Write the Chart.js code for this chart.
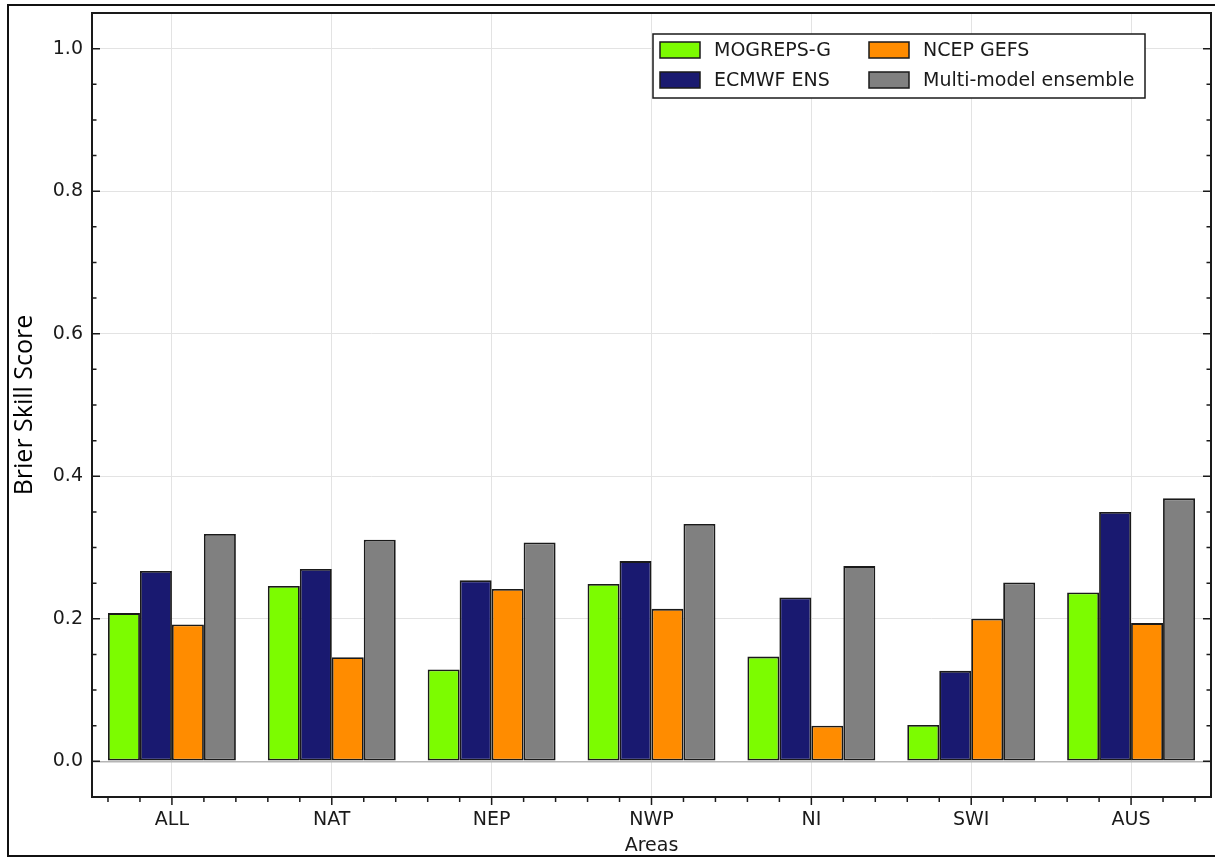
<!DOCTYPE html>
<html>
<head>
<meta charset="utf-8">
<script src="https://cdn.jsdelivr.net/npm/chart.js@4.4.1/dist/chart.umd.min.js"></script>
<style>
  html, body { margin: 0; padding: 0; background: #fff; }
  #wrap { position: relative; width: 1215px; height: 857px; }
</style>
</head>
<body>
<div id="wrap"><canvas id="graph"></canvas></div>
<script>
// values
const areas = ["ALL", "NAT", "NEP", "NWP", "NI", "SWI", "AUS"];
const mogrepsG = [0.208, 0.246, 0.129, 0.249, 0.147, 0.051, 0.237];
const ecmwfEns = [0.267, 0.270, 0.254, 0.281, 0.230, 0.127, 0.350];
const ncepGefs = [0.192, 0.146, 0.242, 0.214, 0.050, 0.200, 0.194];
const multiModel = [0.319, 0.311, 0.307, 0.333, 0.274, 0.251, 0.369];
const yTicks = [0.0, 0.2, 0.4, 0.6, 0.8, 1.0];

const FONT = "'DejaVu Sans', sans-serif";
const INK = "#1a1a1a";

// matplotlib-ish inward/outward ticks, axes box, legend and page frame
const decorations = {
  id: "decorations",
  afterDraw(chart) {
    const { ctx, chartArea: { left, right, top, bottom }, scales: { x, y } } = chart;
    ctx.save();
    ctx.strokeStyle = INK;
    ctx.lineWidth = 1.5;
    ctx.beginPath();
    for (let k = -1; k <= 21; k++) {
      const v = k * 0.05;
      const py = y.getPixelForValue(v);
      if (py < top || py > bottom) continue;
      const len = k % 4 === 0 ? 8 : 4.5;
      ctx.moveTo(left, py); ctx.lineTo(left + len, py);
      ctx.moveTo(right, py); ctx.lineTo(right - len, py);
    }
    const w = (right - left) / areas.length;
    areas.forEach((a, i) => {
      const cx = x.getPixelForValue(i);
      [-0.4, -0.2, 0, 0.2, 0.4].forEach(f => {
        const px = cx + f * w;
        ctx.moveTo(px, bottom); ctx.lineTo(px, bottom + (f === 0 ? 8 : 5));
      });
    });
    ctx.stroke();

    ctx.lineWidth = 2;
    ctx.strokeRect(left, top, right - left, bottom - top);

    // legend, two columns filled top to bottom
    const lx = right - 558, ly = top + 21, lw = 492, lh = 64;
    ctx.fillStyle = "#fff";
    ctx.fillRect(lx, ly, lw, lh);
    ctx.lineWidth = 1.5;
    ctx.strokeRect(lx, ly, lw, lh);
    ctx.font = "19px " + FONT;
    ctx.textBaseline = "middle";
    chart.data.datasets.forEach((ds, i) => {
      const col = Math.floor(i / 2), row = i % 2;
      const sx = lx + 7 + col * 209;
      const sy = ly + 16 + row * 30;
      ctx.fillStyle = ds.backgroundColor;
      ctx.fillRect(sx, sy - 8, 40, 16);
      ctx.strokeStyle = INK;
      ctx.lineWidth = 1.5;
      ctx.strokeRect(sx, sy - 8, 40, 16);
      ctx.fillStyle = INK;
      ctx.fillText(ds.label, sx + 54, sy + 1);
    });

    // outer frame of the figure
    ctx.strokeStyle = "#111";
    ctx.lineWidth = 2;
    ctx.beginPath();
    ctx.moveTo(1216, 5); ctx.lineTo(8, 5); ctx.lineTo(8, 856); ctx.lineTo(1216, 856);
    ctx.stroke();
    ctx.restore();
  }
};

const barStyle = { borderColor: INK, borderWidth: 1.8, borderSkipped: false };

new Chart(document.getElementById("graph"), {
  type: "bar",
  data: {
    labels: areas,
    datasets: [
      { label: "MOGREPS-G", data: mogrepsG, backgroundColor: "#7cfc00", ...barStyle },
      { label: "ECMWF ENS", data: ecmwfEns, backgroundColor: "#191970", ...barStyle },
      { label: "NCEP GEFS", data: ncepGefs, backgroundColor: "#ff8c00", ...barStyle },
      { label: "Multi-model ensemble", data: multiModel, backgroundColor: "#808080", ...barStyle }
    ]
  },
  options: {
    responsive: true,
    maintainAspectRatio: false,
    animation: false,
    layout: { padding: { left: 0, top: 13, right: 4, bottom: 0 } },
    datasets: { bar: { categoryPercentage: 0.8, barPercentage: 1.0 } },
    plugins: { legend: { display: false }, tooltip: { enabled: false } },
    scales: {
      x: {
        grid: { offset: false, color: "#e3e3e3", lineWidth: 1, drawTicks: false },
        border: { display: false },
        ticks: { color: INK, font: { family: FONT, size: 19 }, padding: 12, maxRotation: 0 },
        title: { display: true, text: "Areas", color: INK, font: { family: FONT, size: 19 }, padding: 0 },
        afterFit(scale) { scale.height = 60; }
      },
      y: {
        min: -0.05,
        max: 1.05,
        afterBuildTicks(scale) { scale.ticks = yTicks.map(v => ({ value: v })); },
        grid: {
          color: c => (c.tick && c.tick.value === 0 ? "#b5b5b5" : "#e3e3e3"),
          lineWidth: c => (c.tick && c.tick.value === 0 ? 1.5 : 1),
          drawTicks: false
        },
        border: { display: false },
        ticks: {
          color: INK,
          font: { family: FONT, size: 19 },
          padding: 9,
          callback: v => Number(v).toFixed(1)
        },
        title: {
          display: true,
          text: "Brier Skill Score",
          color: "#000",
          font: { family: "'Open Sans', sans-serif", size: 25 },
          padding: { top: 10, bottom: 0 }
        },
        afterFit(scale) {
          scale.width = 92;
          scale.paddingTop = 0;
          scale.paddingBottom = 0;
        }
      }
    }
  },
  plugins: [decorations]
});
</script>
</body>
</html>
